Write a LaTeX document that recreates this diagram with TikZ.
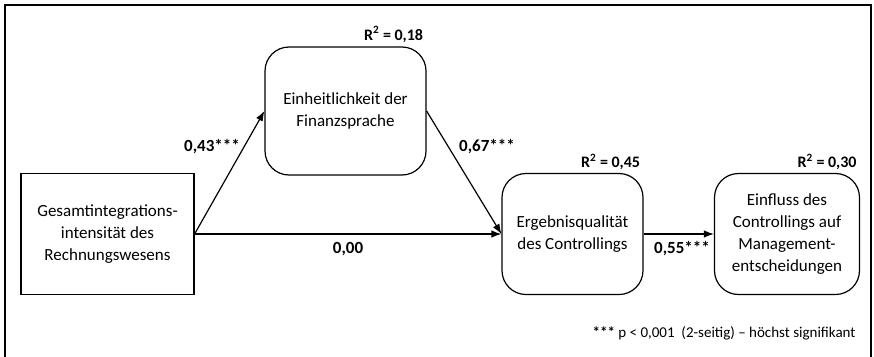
\documentclass[tikz,border=0pt]{standalone}
\usepackage{fontspec}
\setmainfont{Carlito}
\usetikzlibrary{arrows.meta}

\tikzset{
  varbox/.style={draw, line width=1.2pt, align=center, font=\fontsize{17}{22}\selectfont},
  roundbox/.style={varbox, rounded corners=24pt},
  coeff/.style={font=\bfseries\fontsize{17}{19}\selectfont},
  rsq/.style={font=\bfseries\fontsize{16}{18}\selectfont, anchor=east},
  path/.style={line width=1.2pt, -{Latex[length=10pt, width=7.5pt]}}
}

\begin{document}
\begin{tikzpicture}[x=1pt, y=-1pt]
    \useasboundingbox (0,0) rectangle (874,356);
    \draw [line width=1.2pt] (5,360) -- (5,5) -- (871,5) -- (871,360);

    \node [varbox, minimum width=173pt, minimum height=121pt] (gesamt) at (107.5,234)
      {Gesamtintegrations-\\intensität des\\Rechnungswesens};
    \node [roundbox, minimum width=161pt, minimum height=128pt] (einheit) at (345.5,111)
      {Einheitlichkeit der\\Finanzsprache};
    \node [roundbox, minimum width=141pt, minimum height=121pt] (ergebnis) at (572.5,234)
      {Ergebnisqualität\\des Controllings};
    \node [roundbox, minimum width=145pt, minimum height=121pt] (einfluss) at (787,234)
      {Einfluss des\\Controllings auf\\Management-\\entscheidungen};

    \node [rsq] (r18) at (einheit.north east) [yshift=12pt] {R\textsuperscript{2} = 0,18};
    \node [rsq] (r45) at (ergebnis.north east) [yshift=11pt] {R\textsuperscript{2} = 0,45};
    \node [rsq] (r30) at (einfluss.north east) [yshift=11pt] {R\textsuperscript{2} = 0,30};

    \draw [path] (gesamt.east) -- (einheit.west);
    \draw [path] (einheit.east) -- (ergebnis.west);
    \draw [path] (gesamt.east) -- (ergebnis.west);
    \draw [path] (ergebnis.east) -- (einfluss.west);

    \node [coeff] (c43) at (212,147) {0,43***};
    \node [coeff] (c67) at (487,147) {0,67***};
    \node [coeff] (c00) at (348,249) {0,00};
    \node [coeff] (c55) at (682,249) {0,55***};

    \node [anchor=east, font=\fontsize{15}{17}\selectfont] (note) at (859,333)
      {\textbf{***} p < 0,001\ \ (2-seitig) -- höchst signifikant};
  \end{tikzpicture}
\end{document}
